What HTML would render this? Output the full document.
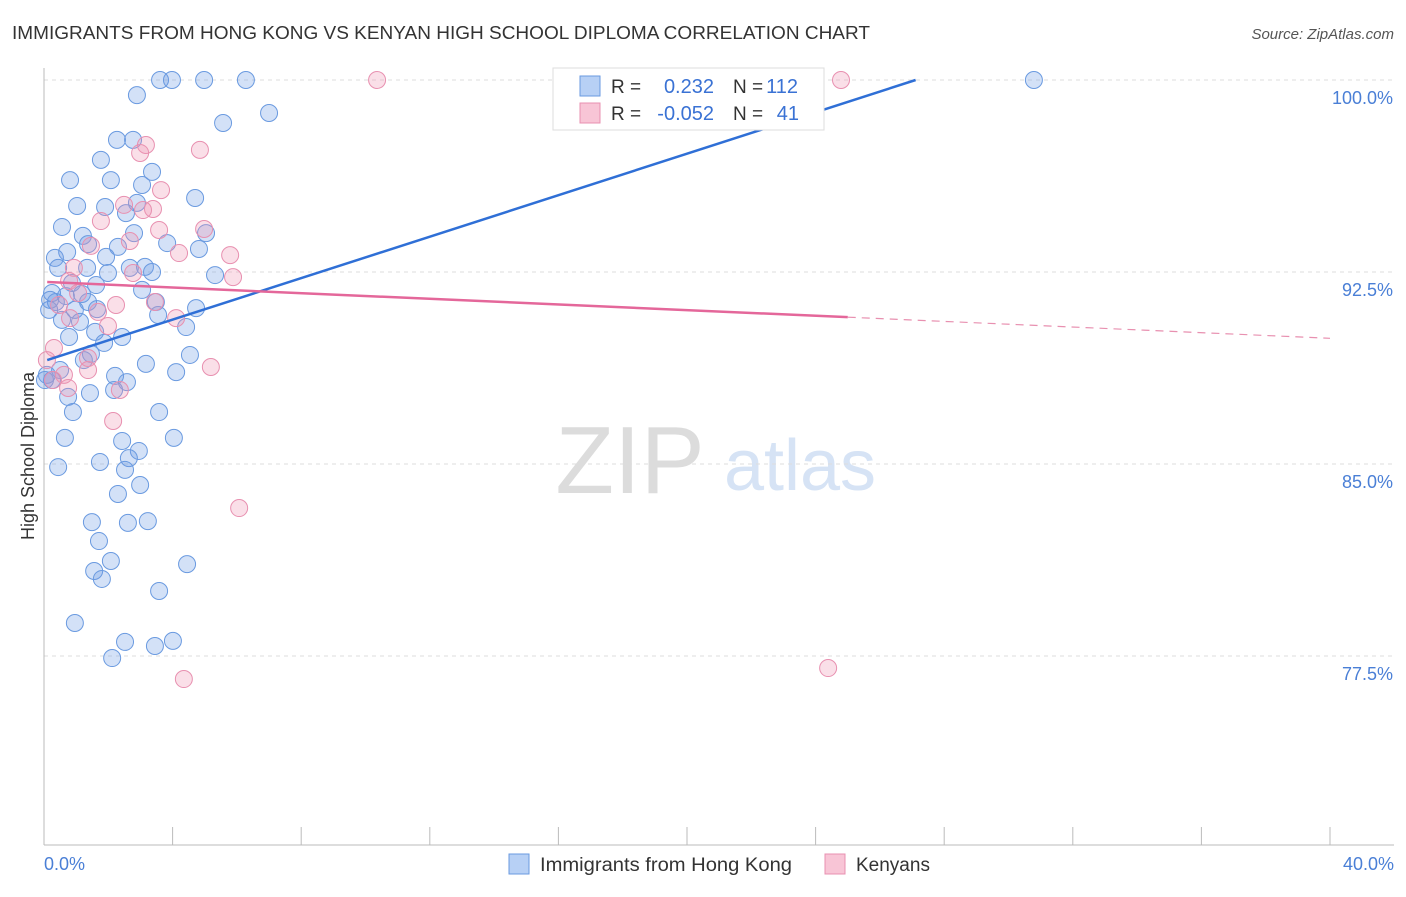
<!DOCTYPE html>
<html><head><meta charset="utf-8"><style>
body{margin:0;background:#fff;font-family:"Liberation Sans",sans-serif;}
svg text{font-family:"Liberation Sans",sans-serif;}
</style></head><body>
<svg id="chart" width="1406" height="892" xmlns="http://www.w3.org/2000/svg">
<text x="12" y="39" font-size="18" fill="#333" textLength="858" lengthAdjust="spacingAndGlyphs">IMMIGRANTS FROM HONG KONG VS KENYAN HIGH SCHOOL DIPLOMA CORRELATION CHART</text>
<text x="1394" y="39" font-size="15" fill="#555" font-style="italic" text-anchor="end">Source: ZipAtlas.com</text>
<text x="630" y="493" font-size="96" fill="#dcdcdc" font-family="Liberation Serif" text-anchor="middle">ZIP</text>
<text x="800" y="490" font-size="72" fill="#d6e3f5" text-anchor="middle">atlas</text>
<g id="grid"></g><g id="pts"></g><g id="lines"></g>
<text transform="translate(34,456) rotate(-90)" font-size="18" fill="#333" text-anchor="middle">High School Diploma</text>
<text x="44" y="870" font-size="18" fill="#4a7fd6">0.0%</text>
<text x="1394" y="870" font-size="18" fill="#4a7fd6" text-anchor="end">40.0%</text>
<g>
<rect x="553" y="68" width="271" height="62" fill="#fff" stroke="#ddd"/>
<rect x="580" y="76" width="20" height="20" fill="#b7d0f5" stroke="#6a9ae0"/>
<rect x="580" y="103" width="20" height="20" fill="#f8c5d6" stroke="#e890b0"/>
<text x="611" y="93" font-size="19" fill="#333">R =</text>
<text x="714" y="93" font-size="20" fill="#3a72d4" text-anchor="end">0.232</text>
<text x="733" y="93" font-size="19" fill="#333">N =</text>
<text x="798" y="93" font-size="20" fill="#3a72d4" text-anchor="end">112</text>
<text x="611" y="120" font-size="19" fill="#333">R =</text>
<text x="714" y="120" font-size="20" fill="#3a72d4" text-anchor="end">-0.052</text>
<text x="733" y="120" font-size="19" fill="#333">N =</text>
<text x="799" y="120" font-size="20" fill="#3a72d4" text-anchor="end">41</text>
</g>
<g>
<rect x="509" y="854" width="20" height="20" fill="#b7d0f5" stroke="#6a9ae0"/>
<text x="540" y="871" font-size="19" fill="#333" textLength="252" lengthAdjust="spacingAndGlyphs">Immigrants from Hong Kong</text>
<rect x="825" y="854" width="20" height="20" fill="#f8c5d6" stroke="#e890b0"/>
<text x="856" y="871" font-size="19" fill="#333">Kenyans</text>
</g>
</svg>
<script>
const yTicks=[100,92.5,85,77.5];
const yTickLabels=["100.0%","92.5%","85.0%","77.5%"];
const xTicks=[0,4,8,12,16,20,24,28,32,36,40];
const blueX=[3.61,3.98,4.98,6.28,30.79,2.89,7.00,5.57,2.27,2.77,1.77,0.81,2.08,3.36,3.05,4.70,1.03,1.90,2.89,2.55,0.56,1.21,2.80,5.04,2.30,3.83,0.72,1.37,4.82,0.34,1.93,0.44,1.34,2.67,3.14,3.36,1.99,5.32,0.87,1.62,0.25,0.68,1.18,3.05,0.37,1.37,3.48,4.73,0.16,0.96,1.65,0.56,1.12,3.55,4.42,0.78,1.59,2.43,1.87,1.46,4.54,0.50,1.24,3.17,4.11,0.25,2.21,2.58,1.43,2.18,0.75,0.90,3.58,0.65,2.43,4.04,2.95,2.64,1.74,2.52,0.44,2.99,2.30,1.49,3.23,2.61,1.71,2.08,1.56,4.45,1.80,3.58,0.96,2.52,4.01,3.45,2.12,0.09,0.19,0.03];
const blueY=[100,100,100,100,100,99.41,98.71,98.32,97.66,97.66,96.88,96.09,96.09,96.41,95.90,95.39,95.08,95.04,95.20,94.80,94.26,93.91,94.02,94.02,93.48,93.63,93.28,93.59,93.40,93.05,93.09,92.66,92.66,92.66,92.70,92.50,92.46,92.38,92.07,91.99,91.68,91.56,91.64,91.80,91.33,91.33,91.33,91.09,91.02,91.02,91.05,90.63,90.55,90.82,90.35,89.96,90.16,89.96,89.73,89.30,89.26,88.67,89.06,88.91,88.59,88.28,88.44,88.20,87.77,87.89,87.62,87.03,87.03,86.02,85.90,86.02,85.51,85.23,85.08,84.77,84.88,84.18,83.83,82.73,82.77,82.70,81.99,81.21,80.82,81.09,80.51,80.04,78.79,78.05,78.09,77.89,77.42,88.48,91.41,88.28];
const pinkX=[10.36,24.79,3.17,2.99,4.85,3.64,2.49,3.39,3.08,1.77,4.98,3.58,1.46,2.67,4.20,5.79,0.93,2.77,5.88,0.78,1.06,0.47,2.24,3.45,1.68,4.11,1.99,0.81,0.31,1.37,0.09,5.19,0.62,0.28,1.37,0.75,2.36,2.15,6.07,24.39,4.35];
const pinkY=[100,100,97.46,97.15,97.27,95.70,95.12,94.96,94.92,94.49,94.18,94.14,93.52,93.71,93.24,93.16,92.66,92.46,92.30,92.15,91.68,91.21,91.21,91.33,90.94,90.70,90.39,90.70,89.53,89.14,89.06,88.79,88.48,88.28,88.67,87.97,87.89,86.68,83.28,77.03,76.60];
const blueTrend=[89.02,0.405];
const pinkTrend=[92.11,-0.055];
const pinkSolidEnd=25;

const NS="http://www.w3.org/2000/svg";
const X=v=>44+v/40*1286;
const Y=v=>80+(100-v)*25.6;
function mk(t,a,p){const e=document.createElementNS(NS,t);for(const k in a)e.setAttribute(k,a[k]);p.appendChild(e);return e;}
const grid=document.getElementById('grid'),pts=document.getElementById('pts'),lines=document.getElementById('lines');
yTicks.forEach((t,i)=>{
 const l=mk('line',{x1:44,x2:1394,y1:Y(t),y2:Y(t),stroke:'#ddd','stroke-dasharray':'4,4'},grid);
 
 
 const tx=mk('text',{x:1393,y:Y(t)+24,'font-size':18,fill:'#4a7fd6','text-anchor':'end'},grid);
 tx.textContent=yTickLabels[i];
 
 
});
const ax=mk('line',{x1:44,x2:44,y1:68,y2:845,stroke:'#bbb'},grid);


const bx=mk('line',{x1:44,x2:1394,y1:845,y2:845,stroke:'#bbb'},grid);


xTicks.forEach(t=>{
 const l=mk('line',{x1:X(t),x2:X(t),y1:827,y2:845,stroke:'#bbb'},grid);
 
 
});
blueX.forEach((v,i)=>{
 const c=mk('circle',{cx:X(v),cy:Y(blueY[i]),r:8.5,fill:'rgba(110,155,230,0.3)',stroke:'#6a9ae0','stroke-width':1},pts);
 
 
});
pinkX.forEach((v,i)=>{
 const c=mk('circle',{cx:X(v),cy:Y(pinkY[i]),r:8.5,fill:'rgba(240,150,180,0.3)',stroke:'#e890b0','stroke-width':1},pts);
 
 
});
const bEnd=Math.min(40,(100-blueTrend[0])/blueTrend[1]);
const bl=mk('line',{x1:X(0.1),y1:Y(blueTrend[0]+blueTrend[1]*0.1),x2:X(bEnd),y2:Y(blueTrend[0]+blueTrend[1]*bEnd),stroke:'#2f6fd6','stroke-width':2.5},lines);


const pl=mk('line',{x1:X(0.1),y1:Y(pinkTrend[0]),x2:X(pinkSolidEnd),y2:Y(pinkTrend[0]+pinkTrend[1]*pinkSolidEnd),stroke:'#e4679a','stroke-width':2.5},lines);


const pd=mk('line',{x1:X(pinkSolidEnd),y1:Y(pinkTrend[0]+pinkTrend[1]*pinkSolidEnd),x2:X(40),y2:Y(pinkTrend[0]+pinkTrend[1]*40),stroke:'#e890b0','stroke-width':1.2,'stroke-dasharray':'8,6'},lines);


</script>
</body></html>
